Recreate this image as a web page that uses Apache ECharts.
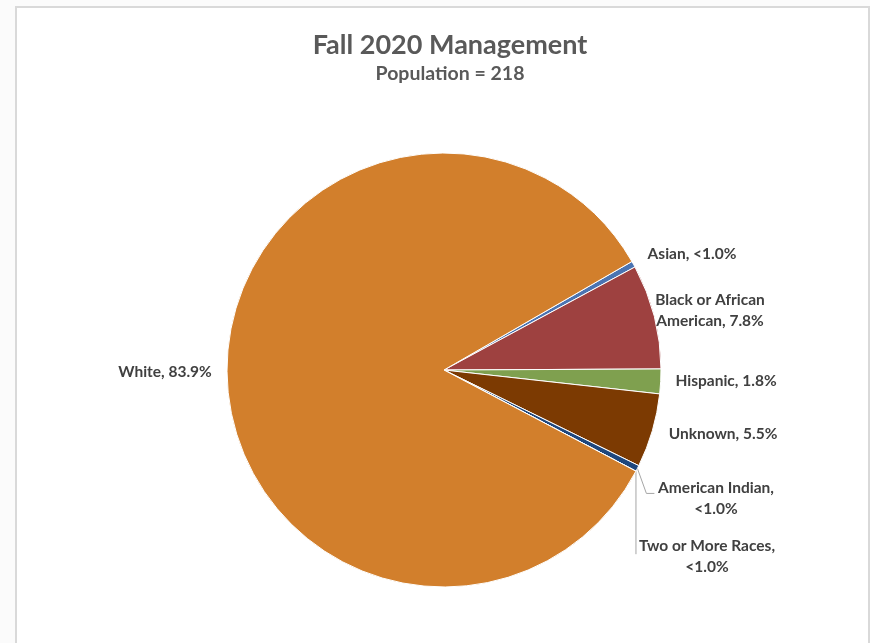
<!DOCTYPE html>
<html>
<head>
<meta charset="utf-8">
<script src="https://cdn.jsdelivr.net/npm/echarts@6/dist/echarts.min.js"></script>
<style>
  html, body { margin: 0; padding: 0; background: #fbfbfb; }
  #chart { width: 870px; height: 643px; }
</style>
</head>
<body>
<div id="chart"></div>
<script>
// Headcount by race/ethnicity, Fall 2020 management staff
const categories = ['Asian', 'Black or African American', 'Hispanic', 'Unknown', 'American Indian', 'Two or More Races', 'White'];
const counts = [1, 17, 4, 12, 1, 0, 183];
const population = 218;
const sliceColors = ['#4B74B2', '#9E4140', '#7FA04F', '#7C3A02', '#1F477D', '#3D6BA8', '#D27F2C'];

// label text with the line breaks used on the chart
function labelText(i) {
  const pct = counts[i] / population * 100;
  const p = pct < 1 ? '<1.0%' : pct.toFixed(1) + '%';
  const name = categories[i];
  if (name === 'Black or African American') return 'Black or African\nAmerican, ' + p;
  if (name === 'American Indian' || name === 'Two or More Races') return name + ',\n' + p;
  return name + ', ' + p;
}

// label anchor spots (centre of each text block)
const labelSpots = [
  [692, 254], [710, 310], [726, 381], [723, 434], [716, 498], [707, 556], [165, 372]
];

const chart = echarts.init(document.getElementById('chart'), null, { renderer: 'canvas' });

const leaderIdx = { 4: true, 5: true };

chart.setOption({
  backgroundColor: 'transparent',
  animation: false,
  graphic: [
    {
      type: 'rect',
      shape: { x: 16, y: 7, width: 853, height: 660 },
      style: { fill: '#ffffff', stroke: '#d9d9d9', lineWidth: 2 },
      z: -10
    }
  ],
  title: {
    text: 'Fall 2020 Management',
    subtext: 'Population = 218',
    left: 445,
    textAlign: 'center',
    top: 27,
    itemGap: 5,
    textStyle: { fontFamily: 'Lato', fontWeight: 'bold', fontSize: 27, color: '#595959' },
    subtextStyle: { fontFamily: 'Lato', fontWeight: 'bold', fontSize: 19.5, color: '#595959' }
  },
  series: [{
    type: 'pie',
    center: [444, 370],
    radius: 217,
    startAngle: 30,
    clockwise: true,
    minAngle: 0,
    avoidLabelOverlap: false,
    silent: true,
    itemStyle: { borderColor: '#ffffff', borderWidth: 1 },
    label: {
      show: true,
      position: 'outside',
      formatter: (p) => labelText(p.dataIndex),
      fontFamily: 'Lato',
      fontWeight: 'bold',
      fontSize: 15.5,
      lineHeight: 21,
      color: '#404040',
      align: 'center'
    },
    labelLine: { show: true, lineStyle: { color: '#a6a6a6', width: 1 } },
    labelLayout: function (params) {
      const i = params.dataIndex;
      const spot = labelSpots[i];
      const out = { x: spot[0], y: spot[1], align: 'center', verticalAlign: 'middle' };
      if (leaderIdx[i] && params.labelLinePoints) {
        const s = params.labelLinePoints[0];
        if (i === 4) {
          out.labelLinePoints = [[s[0], s[1]], [s[0] + 9, s[1] + 25], [s[0] + 17, s[1] + 25]];
        } else {
          out.labelLinePoints = [[s[0], s[1]], [s[0], s[1] + 83], [s[0], s[1] + 83]];
        }
      }
      return out;
    },
    data: categories.map((name, i) => ({
      name: name,
      value: counts[i],
      itemStyle: { color: sliceColors[i] },
      labelLine: { show: !!leaderIdx[i] }
    }))
  }]
});
</script>
</body>
</html>
